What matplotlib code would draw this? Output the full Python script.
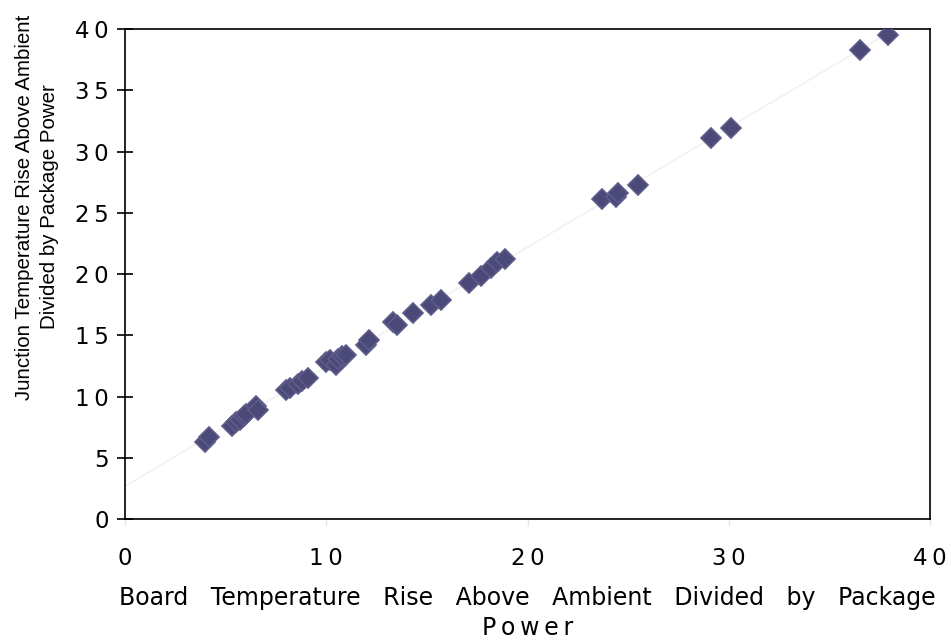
import numpy as np
import matplotlib
matplotlib.use('Agg')
import matplotlib.pyplot as plt

# board temperature rise / package power  vs  junction temperature rise / package power
board_rise = [4.0, 4.2, 5.3, 5.5, 5.7, 5.9, 6.0, 6.5, 6.6,
              8.0, 8.2, 8.6, 8.8, 9.1,
              10.0, 10.2, 10.5, 10.6, 10.8, 11.0,
              12.0, 12.1, 13.3, 13.5, 14.3, 15.2, 15.7,
              17.1, 17.7, 18.2, 18.5, 18.9,
              23.7, 24.4, 24.5, 25.5, 29.1, 30.1, 36.5, 37.9]
junction_rise = [6.3, 6.7, 7.6, 7.9, 8.1, 8.4, 8.6, 9.2, 8.9,
                 10.5, 10.7, 11.0, 11.3, 11.5,
                 12.8, 13.0, 12.6, 13.1, 13.3, 13.4,
                 14.2, 14.6, 16.1, 15.8, 16.8, 17.5, 17.9,
                 19.3, 19.8, 20.5, 21.0, 21.2,
                 26.1, 26.3, 26.6, 27.3, 31.1, 31.9, 38.3, 39.5]

x_ticks = [0, 10, 20, 30, 40]
y_ticks = [0, 5, 10, 15, 20, 25, 30, 35, 40]

MARKER = '#4b4978'
TREND = '#f2efef'


def spaced(v):
    # tick labels in the original have loose letter spacing
    return '\u2009'.join(str(v))


fig = plt.figure(figsize=(9.51, 6.43), dpi=100)
ax = fig.add_axes([0.1314, 0.1928, 0.8466, 0.7621])

x = np.array(board_rise)
y = np.array(junction_rise)

# linear trendline from 0 to the last point
slope, icpt = np.polyfit(x, y, 1)
xt = np.array([0, x.max()])
ax.plot(xt, slope * xt + icpt, color=TREND, lw=1, zorder=1)

ax.plot(x, y, linestyle='none', marker='D', markersize=10.5,
        markerfacecolor=MARKER, markeredgecolor='#5d5b8a',
        markeredgewidth=1.2, zorder=3)

ax.set_xlim(0, 40)
ax.set_ylim(0, 40)
ax.set_xticks(x_ticks)
ax.set_yticks(y_ticks)
ax.set_xticklabels([spaced(v) for v in x_ticks])
ax.set_yticklabels([spaced(v) for v in y_ticks])

ax.tick_params(axis='y', direction='inout', length=11.5, width=1.2,
               pad=6, labelsize=16.5, colors='black')
ax.tick_params(axis='x', direction='out', length=5, width=1,
               color='#e6e6e6', labelcolor='black', pad=15, labelsize=16.5)
ax.tick_params(top=False, right=False)

for s in ax.spines.values():
    s.set_linewidth(1.2)
    s.set_color('black')

ax.set_xlabel('Board   Temperature   Rise   Above   Ambient   Divided   by   Package\n'
              'P\u2009o\u2009w\u2009e\u2009r',
              fontsize=17, labelpad=12, linespacing=1.3)

ax.set_ylabel('Junction Temperature Rise Above Ambient\nDivided by Package Power',
              family='Liberation Sans', fontsize=14.8, linespacing=1.38)
ax.yaxis.set_label_coords(-0.082, 0.637)

fig.savefig('out.png', dpi=100, facecolor='white')
